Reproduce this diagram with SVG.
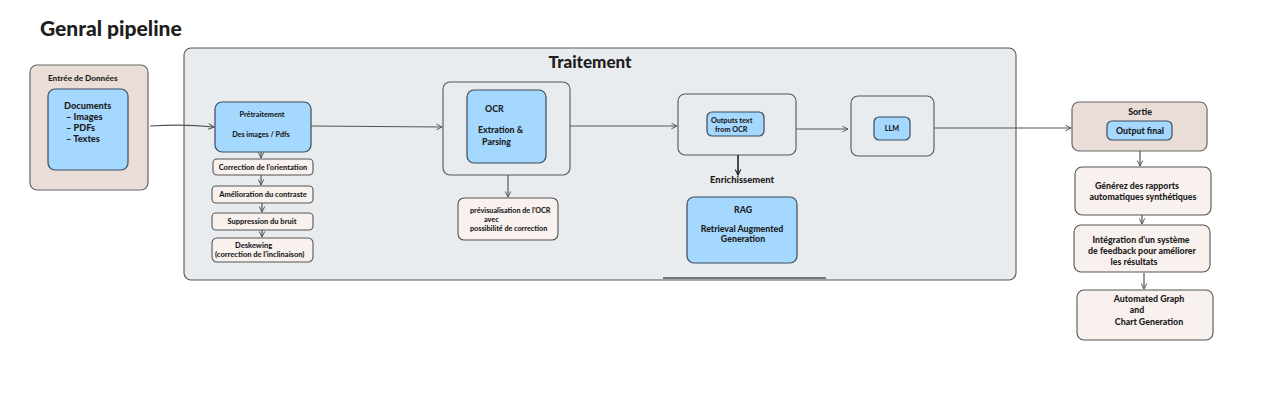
<svg xmlns="http://www.w3.org/2000/svg" width="1280" height="405" viewBox="0 0 1280 405">
<defs>
<marker id="ah" viewBox="0 0 10 10" refX="9" refY="5" markerWidth="7" markerHeight="7" orient="auto-start-reverse" markerUnits="userSpaceOnUse"><path d="M1,1 L9,5 L1,9" fill="none" stroke="#555" stroke-width="1.4"/></marker>
<marker id="ahd" viewBox="0 0 10 10" refX="9" refY="5" markerWidth="7" markerHeight="7" orient="auto" markerUnits="userSpaceOnUse"><path d="M1,1 L9,5 L1,9" fill="none" stroke="#222" stroke-width="1.6"/></marker>
</defs>
<style>
text{font-family:Lato,"Open Sans","Liberation Sans",sans-serif;font-weight:900;fill:#1e1e1e}
.blue{fill:#a5d8ff;stroke:#3a4a5a;stroke-width:1.2}
.taupe{fill:#eaddd7;stroke:#666;stroke-width:1.2}
.pink{fill:#f8f1ee;stroke:#555;stroke-width:1.1}
.grey{fill:#e9ecef;stroke:#555;stroke-width:1.1}
.c{text-anchor:middle}
.conn{fill:none;stroke:#555;stroke-width:1.2;marker-end:url(#ah)}
.conn2{fill:none;stroke:#222;stroke-width:1.6;marker-end:url(#ahd)}
.s6{font-size:7.2px}
.s7{font-size:7.5px}
.s8{font-size:8.8px}
</style>
<rect width="1280" height="405" fill="#ffffff"/>
<text x="40" y="36" font-size="21">Genral pipeline</text>

<g id="traitement">
<rect class="grey" x="184" y="48" width="832" height="232" rx="7"/>
<text class="c" x="590" y="68" font-size="17">Traitement</text>
<line x1="663" y1="278" x2="826" y2="278" stroke="#777" stroke-width="1.8"/>
</g>

<g id="entree">
<rect class="taupe" x="30" y="65" width="118" height="125" rx="7"/>
<text x="48" y="81" font-size="8.2">Entrée de Données</text>
<rect class="blue" x="48" y="89" width="80" height="81" rx="7"/>
<text x="64" y="109" font-size="9.2">Documents</text>
<text x="66" y="120" font-size="9.2">– Images</text>
<text x="66" y="131" font-size="9.2">– PDFs</text>
<text x="66" y="142" font-size="9.2">– Textes</text>
</g>

<g id="pretraitement">
<rect class="blue" x="215" y="102" width="96" height="50" rx="7"/>
<text class="c s6" x="262" y="117">Prétraitement</text>
<text class="c s6" x="261" y="137">Des images / Pdfs</text>
</g>
<g id="correction">
<rect class="pink" x="213" y="159" width="100" height="16" rx="4"/>
<text class="c s7" x="263" y="169.5">Correction de l'orientation</text>
</g>
<g id="contraste">
<rect class="pink" x="212" y="186" width="101" height="17" rx="4"/>
<text class="c s7" x="263" y="197">Amélioration du contraste</text>
</g>
<g id="bruit">
<rect class="pink" x="212" y="213" width="101" height="17" rx="4"/>
<text class="c s7" x="262" y="224">Suppression du bruit</text>
</g>
<g id="deskewing">
<rect class="pink" x="212" y="238" width="101" height="24" rx="5"/>
<text x="235" y="247.5" class="s7">Deskewing</text>
<text x="215" y="257" class="s7">(correction de l'inclinaison)</text>
</g>

<g id="ocr">
<rect class="grey" x="443" y="82" width="127" height="93" rx="7"/>
<rect class="blue" x="467" y="90" width="79" height="73" rx="7"/>
<text x="485" y="112" class="s8">OCR</text>
<text x="478" y="133" class="s8">Extration &amp;</text>
<text x="482" y="145" class="s8">Parsing</text>
</g>
<g id="preview">
<rect class="pink" x="458" y="198" width="100" height="42" rx="6"/>
<text x="470" y="213" class="s6">prévisualisation de l'OCR</text>
<text x="484" y="222" class="s6">avec</text>
<text x="470" y="231" class="s6">possibilité de correction</text>
</g>

<g id="outputs">
<rect class="grey" x="678" y="94" width="118" height="61" rx="7"/>
<rect class="blue" x="707" y="112" width="57" height="24" rx="5"/>
<text x="711" y="122.5" class="s6">Outputs text</text>
<text x="715" y="131.5" class="s6">from OCR</text>
</g>
<text class="c" font-size="9.4" x="742" y="183" id="enrich-label">Enrichissement</text>
<g id="rag">
<rect class="blue" x="687" y="197" width="110" height="66" rx="7"/>
<text class="c s8" x="743" y="213">RAG</text>
<text class="c s8" x="742" y="232">Retrieval Augmented</text>
<text class="c s8" x="743" y="242">Generation</text>
</g>

<g id="llm">
<rect class="grey" x="851" y="96" width="83" height="60" rx="7"/>
<rect class="blue" x="874" y="117" width="36" height="23" rx="5"/>
<text class="c s6" x="892" y="131">LLM</text>
</g>

<g id="sortie">
<rect class="taupe" x="1072" y="102" width="135" height="49" rx="7"/>
<text class="c s8" x="1140" y="115">Sortie</text>
<rect class="blue" x="1107" y="121" width="65" height="19" rx="5"/>
<text class="c s8" x="1140" y="133.5">Output final</text>
</g>
<g id="rapports">
<rect class="pink" x="1075" y="167" width="136" height="48" rx="7"/>
<text class="c s8" x="1137" y="189">Générez des rapports</text>
<text class="c s8" x="1143" y="200">automatiques synthétiques</text>
</g>
<g id="feedback">
<rect class="pink" x="1074" y="225" width="136" height="47" rx="7"/>
<text class="c s8" x="1141" y="243">Intégration  d'un système</text>
<text class="c s8" x="1142" y="254">de feedback pour améliorer</text>
<text class="c s8" x="1134" y="265">les résultats</text>
</g>
<g id="graph">
<rect class="pink" x="1077" y="290" width="136" height="50" rx="7"/>
<text class="c s8" x="1149" y="302">Automated Graph</text>
<text class="c s8" x="1137" y="313">and</text>
<text class="c s8" x="1149" y="325">Chart Generation</text>
</g>

<g id="connectors">
<path class="conn" d="M150,126 Q185,124 214,127"/>
<path class="conn" d="M311,126 L442,127"/>
<path class="conn" d="M261,152 L261,158"/>
<path class="conn" d="M261,175 L261,185"/>
<path class="conn" d="M262,203 L262,212"/>
<path class="conn" d="M262,230 L262,237"/>
<path class="conn" d="M508,175 L508,197"/>
<path class="conn" d="M570,126 L677,126"/>
<path class="conn2" d="M738,155 L738,175"/>
<path class="conn" d="M796,129 L848,129"/>
<path class="conn" d="M934,128 L1071,128"/>
<path class="conn" d="M1140,151 L1140,166"/>
<path class="conn" d="M1142,215 L1142,224"/>
<path class="conn" d="M1144,273 L1144,289"/>
</g>
</svg>
